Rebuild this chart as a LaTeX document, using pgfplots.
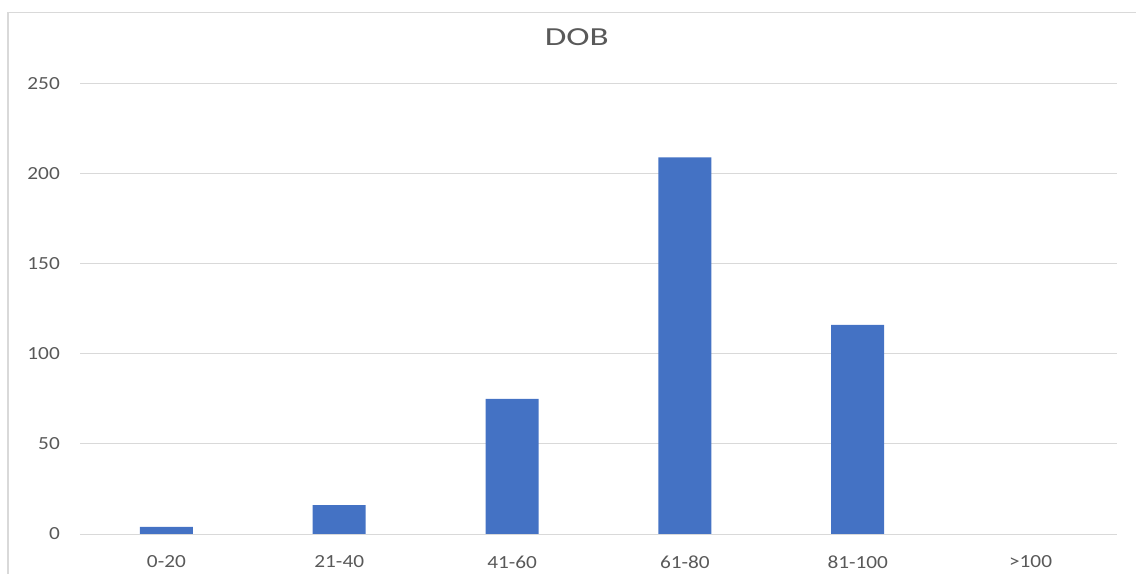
\documentclass[border=0pt]{standalone}
\usepackage{fontspec}
\setmainfont{Carlito}
\newfontfamily\tickfont[FakeStretch=1.15]{Carlito}
\newfontfamily\titlefont[FakeStretch=1.35]{Carlito}
\usepackage{pgfplots}
\pgfplotsset{compat=1.18}
\definecolor{barblue}{HTML}{4472C4}
\definecolor{gridgray}{HTML}{D9D9D9}
\definecolor{labelgray}{HTML}{595959}
\begin{document}
\begin{tikzpicture}
\path[use as bounding box] (0,0) rectangle (1136bp,574bp);
\draw[gridgray, line width=1.2bp] (8bp,0) -- (8bp,561.5bp) -- (1136bp,561.5bp);
\begin{axis}[
  at={(80bp,40bp)}, anchor=south west,
  scale only axis, width=1037bp, height=450.5bp,
  xmin=-0.5, xmax=5.5, ymin=0, ymax=250,
  ybar, bar width=53bp,
  axis line style={draw=none},
  major tick style={draw=none},
  ymajorgrids, grid style={gridgray, line width=1bp},
  ytick={0,50,100,150,200,250},
  xtick=data,
  xticklabels={0-20,21-40,41-60,61-80,81-100,>100},
  /pgf/number format/assume math mode=true,
  ticklabel style={font=\fontsize{18.5bp}{21bp}\tickfont, text=labelgray, inner sep=0pt},
  yticklabel style={anchor=east, xshift=-20bp},
  xticklabel style={anchor=north, yshift=-17.5bp},
  title={DOB},
  title style={at={(axis description cs:0.479,1.0888)}, anchor=center, inner sep=0pt,
    font=\fontsize{26bp}{30bp}\titlefont, text=labelgray},
]
\addplot[fill=barblue, draw=none] coordinates {
  (0,4) (1,16) (2,75) (3,209) (4,116) (5,0)
};
\end{axis}
\end{tikzpicture}
\end{document}
